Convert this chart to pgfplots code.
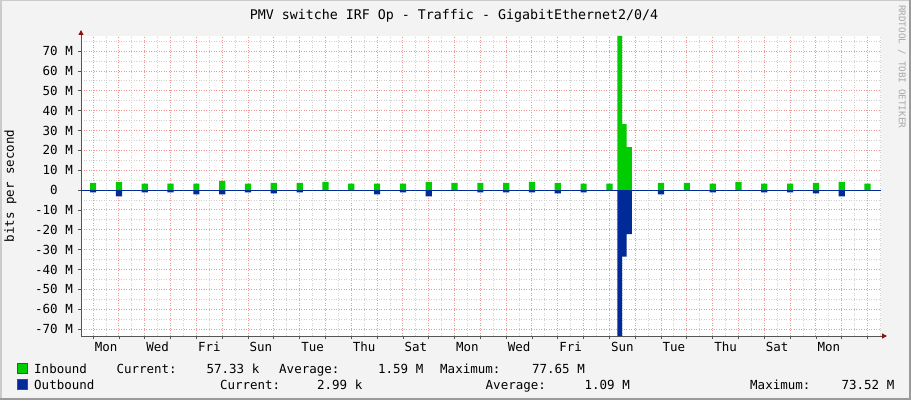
\documentclass[border=0pt]{standalone}
\usepackage{pgfplots}
\pgfplotsset{compat=1.18}
\usepackage{fontspec}
\setmainfont{DejaVu Sans Mono}
\usetikzlibrary{arrows.meta}
\definecolor{bg}{HTML}{F3F3F3}
\definecolor{shadea}{HTML}{CBCBCB}
\definecolor{shadeb}{HTML}{9A9A9A}
\definecolor{mgrid}{HTML}{EE9898}
\definecolor{gridc}{HTML}{D0D0D0}
\definecolor{inb}{HTML}{00CC00}
\definecolor{outb}{HTML}{002A97}
\definecolor{axisg}{HTML}{555555}
\definecolor{arrowr}{HTML}{8B1010}
\definecolor{wm}{HTML}{A8A8A8}
\newcommand{\tk}{\fontsize{12.5}{14}\selectfont}
\begin{document}
\begin{tikzpicture}[x=1pt,y=1pt]
\fill[bg] (0,0) rectangle (911,400);
\useasboundingbox (0,0) rectangle (911,400);
\fill[shadea] (0,0) rectangle (1.5,400);
\fill[shadea] (0,398.5) rectangle (911,400);
\fill[shadeb] (909,0) rectangle (911,400);
\fill[shadeb] (0,0) rectangle (911,2);
\begin{axis}[
  at={(81pt,64pt)}, anchor=south west, scale only axis,
  width=800pt, height=300pt,
  xmin=-0.47, xmax=30.52, ymin=-73.52, ymax=77.65,
  axis background/.style={fill=white},
  axis x line*=bottom, axis y line*=left,
  x axis line style={draw=axisg, line width=1pt, shorten >=-6pt, -{Triangle[length=5pt,width=5pt,color=arrowr]}},
  y axis line style={draw=axisg, line width=1pt, shorten >=-6pt, -{Triangle[length=5pt,width=5pt,color=arrowr]}},
  xtick={0,1,...,30}, xticklabels={},
  minor xtick={0.5,1.5,...,30.5},
  extra x ticks={0.5,2.5,...,28.5},
  extra x tick labels={Mon,Wed,Fri,Sun,Tue,Thu,Sat,Mon,Wed,Fri,Sun,Tue,Thu,Sat,Mon},
  extra x tick style={grid=none, major tick length=0pt,
     xticklabel style={font=\tk, anchor=base, inner sep=0pt, yshift=-15pt}},
  ytick={-70,-60,...,70},
  yticklabels={-70 M,-60 M,-50 M,-40 M,-30 M,-20 M,-10 M,0\hphantom{\ M},10 M,20 M,30 M,40 M,50 M,60 M,70 M},
  minor ytick={-65,-55,...,75},
  yticklabel style={font=\tk, anchor=east, inner sep=0pt, xshift=-5pt},
  tick align=outside, major tick length=3pt, minor tick length=0pt,
  tick style={draw=axisg, line width=0.8pt},
  grid=both,
  major grid style={draw=mgrid, line width=1pt, dash pattern=on 1pt off 1.5pt},
  minor grid style={draw=gridc, line width=1pt, dash pattern=on 1pt off 1.5pt},
  clip=true,
]
\addplot[const plot, fill=inb, draw=none] coordinates {
(-0.47,0)
(-0.12,3.7)(0.12,0)
(0.88,4.2)(1.12,0)
(1.88,3.2)(2.12,0)
(2.88,3.2)(3.12,0)
(3.88,3.2)(4.12,0)
(4.88,4.7)(5.12,0)
(5.88,3.2)(6.12,0)
(6.88,3.7)(7.12,0)
(7.88,3.7)(8.12,0)
(8.88,4.2)(9.12,0)
(9.88,3.2)(10.12,0)
(10.88,3.2)(11.12,0)
(11.88,3.2)(12.12,0)
(12.88,4.2)(13.12,0)
(13.88,3.7)(14.12,0)
(14.88,3.7)(15.12,0)
(15.88,3.7)(16.12,0)
(16.88,4.2)(17.12,0)
(17.88,3.7)(18.12,0)
(18.88,3.2)(19.12,0)
(19.88,3.2)(20.12,0)
(20.31,77.65)(20.49,33.2)(20.67,21.7)(20.87,0)
(21.88,3.7)(22.12,0)
(22.88,3.7)(23.12,0)
(23.88,3.2)(24.12,0)
(24.88,4.2)(25.12,0)
(25.88,3.2)(26.12,0)
(26.88,3.2)(27.12,0)
(27.88,3.7)(28.12,0)
(28.88,4.2)(29.12,0)
(29.88,3.2)(30.12,0)
(30.52,0)
} -- cycle;
\addplot[const plot, fill=outb, draw=none] coordinates {
(-0.47,0)
(-0.12,-1.2)(0.12,0)
(0.88,-3.2)(1.12,0)
(1.88,-1.2)(2.12,0)
(2.88,-1.2)(3.12,0)
(3.88,-2.2)(4.12,0)
(4.88,-2.2)(5.12,0)
(5.88,-1.2)(6.12,0)
(6.88,-1.7)(7.12,0)
(7.88,-1.2)(8.12,0)
(10.88,-2.2)(11.12,0)
(11.88,-1.2)(12.12,0)
(12.88,-3.2)(13.12,0)
(14.88,-1.2)(15.12,0)
(15.88,-1.2)(16.12,0)
(16.88,-1.2)(17.12,0)
(17.88,-1.7)(18.12,0)
(18.88,-1.2)(19.12,0)
(20.31,-73.52)(20.49,-33.5)(20.67,-22.2)(20.87,0)
(21.88,-2.2)(22.12,0)
(23.88,-1.2)(24.12,0)
(25.88,-1.2)(26.12,0)
(26.88,-1.2)(27.12,0)
(27.88,-1.7)(28.12,0)
(28.88,-3.2)(29.12,0)
(30.52,0)
} -- cycle;
\addplot[draw=outb, line width=1pt] coordinates {(-0.47,0) (30.52,0)};
\end{axis}
% title
\node[anchor=base, inner sep=0pt, font=\fontsize{13.3}{15}\selectfont] at (454,380.7) {PMV switche IRF Op - Traffic - GigabitEthernet2/0/4};
% y label
\node[rotate=90, inner sep=0pt, font=\tk] at (10.5,214) {bits per second};
% watermark
\node[rotate=-90, anchor=west, inner sep=0pt, text=wm, font=\fontsize{9.3}{10}\selectfont] at (902,395) {RRDTOOL / TOBI OETIKER};
% legend
\filldraw[fill=inb, draw=black!70, line width=0.8pt] (17,27) rectangle (27,37);
\filldraw[fill=outb, draw=black!70, line width=0.8pt] (17,11) rectangle (27,21);
\begin{scope}[every node/.style={inner sep=0pt, font=\tk}]
\node[anchor=base west] at (34,27) {Inbound};
\node[anchor=base west] at (116.3,27) {Current:};
\node[anchor=base east] at (259.5,27) {57.33 k};
\node[anchor=base west] at (279,27) {Average:};
\node[anchor=base east] at (423.5,27) {1.59 M};
\node[anchor=base west] at (440,27) {Maximum:};
\node[anchor=base east] at (585,27) {77.65 M};
\node[anchor=base west] at (34,11) {Outbound};
\node[anchor=base west] at (219.8,11) {Current:};
\node[anchor=base east] at (362.5,11) {2.99 k};
\node[anchor=base west] at (485.5,11) {Average:};
\node[anchor=base east] at (630,11) {1.09 M};
\node[anchor=base west] at (750,11) {Maximum:};
\node[anchor=base east] at (894.5,11) {73.52 M};
\end{scope}
\end{tikzpicture}
\end{document}
